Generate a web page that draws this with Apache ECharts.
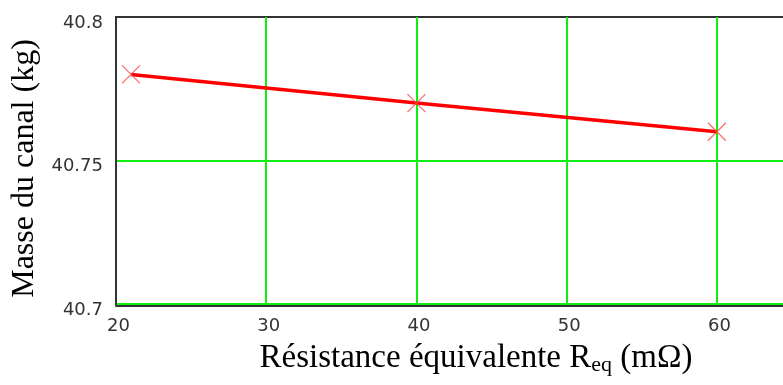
<!DOCTYPE html>
<html>
<head>
<meta charset="utf-8">
<script src="https://cdn.jsdelivr.net/npm/echarts@6/dist/echarts.min.js"></script>
<style>
  html, body { margin: 0; padding: 0; background: #ffffff; }
  #chart { width: 783px; height: 385px; }
</style>
</head>
<body>
<div id="chart"></div>
<script>
  // donnees
  var resistance = [21, 40, 60];
  var masse = [40.78, 40.77, 40.76];
  var xTicks = [20, 30, 40, 50, 60];
  var yTicks = [40.7, 40.75, 40.8];
  var xMax = 65;

  var points = resistance.map(function (r, i) { return [r, masse[i]]; });

  var chart = echarts.init(document.getElementById('chart'));

  var labelFont = 'DejaVu Sans';
  var serif = 'Liberation Serif';
  var vert = '#11ee11';

  var option = {
    backgroundColor: '#ffffff',
    animation: false,
    grid: {
      left: 116,
      top: 17,
      bottom: 81,
      right: -9,
      outerBoundsMode: 'none',
      containLabel: false,
      show: true,
      borderColor: '#333333',
      borderWidth: 2
    },
    xAxis: {
      type: 'value',
      min: 20,
      max: xMax,
      interval: 10,
      offset: 2,
      name: 'Résistance équivalente R{sub|eq} (mΩ)',
      nameLocation: 'middle',
      nameGap: 34,
      nameTextStyle: {
        fontFamily: serif,
        fontSize: 33,
        color: '#000000',
        padding: [0, 0, 0, 44],
        rich: {
          sub: { fontFamily: serif, fontSize: 22, color: '#000000', verticalAlign: 'bottom', padding: [14, 0, 0, 0] }
        }
      },
      axisLine: { show: true, lineStyle: { color: '#333333', width: 2 } },
      axisTick: { show: false },
      axisLabel: {
        fontFamily: labelFont,
        fontSize: 18,
        color: '#333333',
        margin: 11,
        padding: [0, 0, 0, 5],
        // le bord droit est coupé : on masque l'etiquette du max
        customValues: xTicks.concat([xMax]),
        showMaxLabel: false,
        formatter: function (v) { return xTicks.indexOf(v) >= 0 ? String(v) : ''; }
      },
      splitLine: { show: true, lineStyle: { color: vert, width: 2 } }
    },
    yAxis: {
      type: 'value',
      min: 40.7,
      max: 40.8,
      interval: 0.05,
      name: 'Masse du canal (kg)',
      nameLocation: 'middle',
      nameGap: 70,
      nameTextStyle: {
        fontFamily: serif,
        fontSize: 32,
        color: '#000000',
        padding: [0, 16, 0, 0]
      },
      axisLine: { show: true, lineStyle: { color: '#333333', width: 2 } },
      axisTick: { show: false },
      axisLabel: {
        fontFamily: labelFont,
        fontSize: 18,
        color: '#333333',
        margin: 13,
        formatter: function (v) {
          for (var i = 0; i < yTicks.length; i++) {
            if (Math.abs(yTicks[i] - v) < 1e-9) return '{a|' + String(yTicks[i]) + '}';
          }
          return '';
        },
        rich: {
          a: { fontFamily: labelFont, fontSize: 18, color: '#333333', padding: [12, 0, 0, 0] }
        }
      },
      // la derniere ligne (40.8) reste sombre comme le cadre
      splitLine: { show: true, lineStyle: { color: [vert, vert, '#333333'], width: 2 } }
    },
    series: [
      {
        type: 'line',
        data: points,
        showSymbol: false,
        lineStyle: { color: '#ff0000', width: 3.5 },
        z: 3
      },
      {
        type: 'scatter',
        data: points,
        symbol: 'path://M0,0L10,10M10,0L0,10',
        symbolSize: 18,
        itemStyle: { color: 'none', borderColor: '#ff4a4a', borderWidth: 1.3 },
        z: 4
      }
    ]
  };

  chart.setOption(option);
</script>
</body>
</html>
